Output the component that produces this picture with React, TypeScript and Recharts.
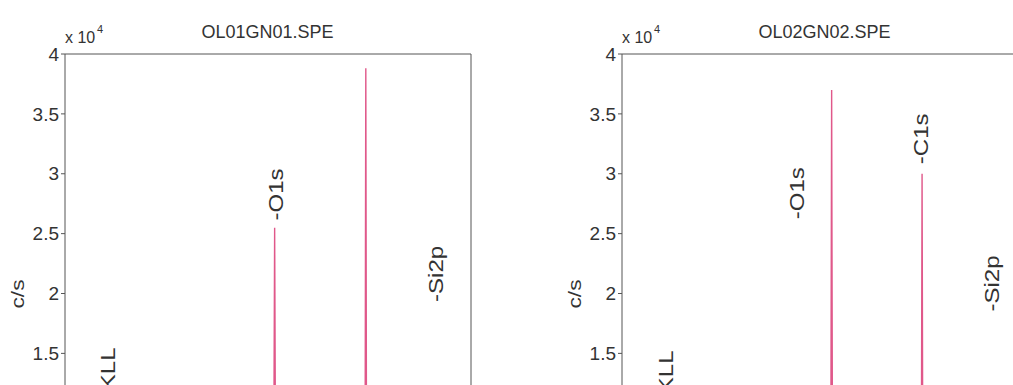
import { LineChart, Line, XAxis, YAxis, ReferenceDot } from 'recharts'

const FONT = "'Liberation Sans', Arial, Helvetica, sans-serif"
const INK = '#333'
const FRAME = '#555'
const TRACE = '#e0588a'

const energyTicks = [0, 200, 400, 600, 800, 1000]
const countTicks = [0, 5000, 10000, 15000, 20000, 25000, 30000, 35000, 40000]

// survey scan OL01GN01: binding energy (eV) vs count rate (c/s)
const energy1 = [1100, 1000, 986, 981, 976, 900, 700, 560, 534, 532, 530, 515, 400, 300, 287, 285, 283, 260, 150, 104, 101, 98, 0]
const counts1 = [5200, 7200, 8600, 11200, 8200, 6800, 6200, 6600, 9400, 25500, 9000, 4600, 4300, 4100, 5600, 38800, 5200, 3200, 2900, 4200, 9300, 3600, 2100]

// survey scan OL02GN02
const energy2 = [1100, 1000, 986, 981, 976, 900, 700, 560, 534, 532, 530, 515, 400, 300, 289, 287, 285, 260, 150, 104, 101, 98, 0]
const counts2 = [5400, 7400, 8800, 11000, 8400, 7000, 6400, 6900, 9800, 37000, 9200, 4800, 4400, 4200, 5400, 30000, 5000, 3300, 3000, 4300, 9000, 3700, 2200]

// peak markers: text, binding energy, height at which the marker starts
const markText1 = ['-OKLL', '-O1s', '-Si2p']
const markEnergy1 = [983, 527, 95]
const markCounts1 = [9700, 26100, 19300]

const markText2 = ['-OKLL', '-O1s', '-C1s', '-Si2p']
const markEnergy2 = [980, 624, 290, 97]
const markCounts2 = [9450, 26200, 30800, 18500]

const spectrum1 = energy1.map((e, i) => ({ e, c: counts1[i] }))
const spectrum2 = energy2.map((e, i) => ({ e, c: counts2[i] }))
const marks1 = markText1.map((text, i) => ({ text, e: markEnergy1[i], c: markCounts1[i] }))
const marks2 = markText2.map((text, i) => ({ text, e: markEnergy2[i], c: markCounts2[i] }))

type Point = { e: number; c: number }
type Mark = { text: string; e: number; c: number }

// upright text, stretched a little along its own direction
function Vertical({ x, y, text, size, anchor }: { x: number; y: number; text: string; size: number; anchor: 'start' | 'middle' }) {
  return (
    <text
      transform={`translate(${x}, ${y}) rotate(-90) scale(1.2, 1)`}
      textAnchor={anchor}
      dominantBaseline="central"
      fontSize={size}
      fontFamily={FONT}
      fill={INK}
    >
      {text}
    </text>
  )
}

function Survey({ data, marks }: { data: Point[]; marks: Mark[] }) {
  return (
    <LineChart width={480} height={560} data={data} margin={{ top: 54, right: 9, bottom: 7, left: 7 }}>
      <XAxis
        dataKey="e"
        type="number"
        domain={[0, 1100]}
        ticks={energyTicks}
        reversed
        height={20}
        stroke={FRAME}
        tickSize={4}
        tick={{ fontSize: 19, fill: INK, fontFamily: FONT }}
      />
      <XAxis
        xAxisId="top"
        orientation="top"
        type="number"
        domain={[0, 1100]}
        ticks={energyTicks}
        reversed
        height={1}
        mirror
        tick={false}
        tickSize={4}
        stroke={FRAME}
      />
      <YAxis
        type="number"
        domain={[0, 40000]}
        ticks={countTicks}
        width={58}
        stroke={FRAME}
        tickSize={4}
        tickFormatter={(v: number) => String(v / 10000)}
        tick={{ fontSize: 19, fill: INK, fontFamily: FONT }}
      />
      <YAxis
        yAxisId="right"
        orientation="right"
        type="number"
        domain={[0, 40000]}
        ticks={countTicks}
        width={1}
        mirror
        tick={false}
        tickSize={4}
        stroke={FRAME}
      />
      <Line
        type="linear"
        dataKey="c"
        stroke={TRACE}
        strokeWidth={1.4}
        dot={false}
        isAnimationActive={false}
      />
      {marks.map((m) => (
        <ReferenceDot
          key={m.text}
          x={m.e}
          y={m.c}
          r={0}
          ifOverflow="visible"
          shape={(p: { cx?: number; cy?: number }) =>
            p.cx == null || p.cy == null ? <g /> : <Vertical x={p.cx} y={p.cy} text={m.text} size={20} anchor="start" />
          }
        />
      ))}
    </LineChart>
  )
}

function Heading({ x, title }: { x: number; title: string }) {
  return (
    <g fontFamily={FONT} fill={INK}>
      <text x={x + 202.5} y={38} fontSize={18} textAnchor="middle">
        {title}
      </text>
      <text x={x} y={43} fontSize={16}>
        x 10
      </text>
      <text x={x + 32} y={33} fontSize={11}>
        4
      </text>
      <Vertical x={x - 48} y={294} text="c/s" size={19} anchor="middle" />
    </g>
  )
}

export default function App() {
  return (
    <div
      style={{
        position: 'fixed',
        left: 0,
        top: 0,
        width: 1013,
        height: 385,
        overflow: 'hidden',
        background: '#fff',
      }}
    >
      <div style={{ position: 'absolute', left: 0, top: 0 }}>
        <Survey data={spectrum1} marks={marks1} />
      </div>
      <div style={{ position: 'absolute', left: 557, top: 0 }}>
        <Survey data={spectrum2} marks={marks2} />
      </div>
      <svg
        width={1013}
        height={385}
        style={{ position: 'absolute', left: 0, top: 0, pointerEvents: 'none' }}
      >
        <Heading x={65} title="OL01GN01.SPE" />
        <Heading x={622} title="OL02GN02.SPE" />
      </svg>
    </div>
  )
}
